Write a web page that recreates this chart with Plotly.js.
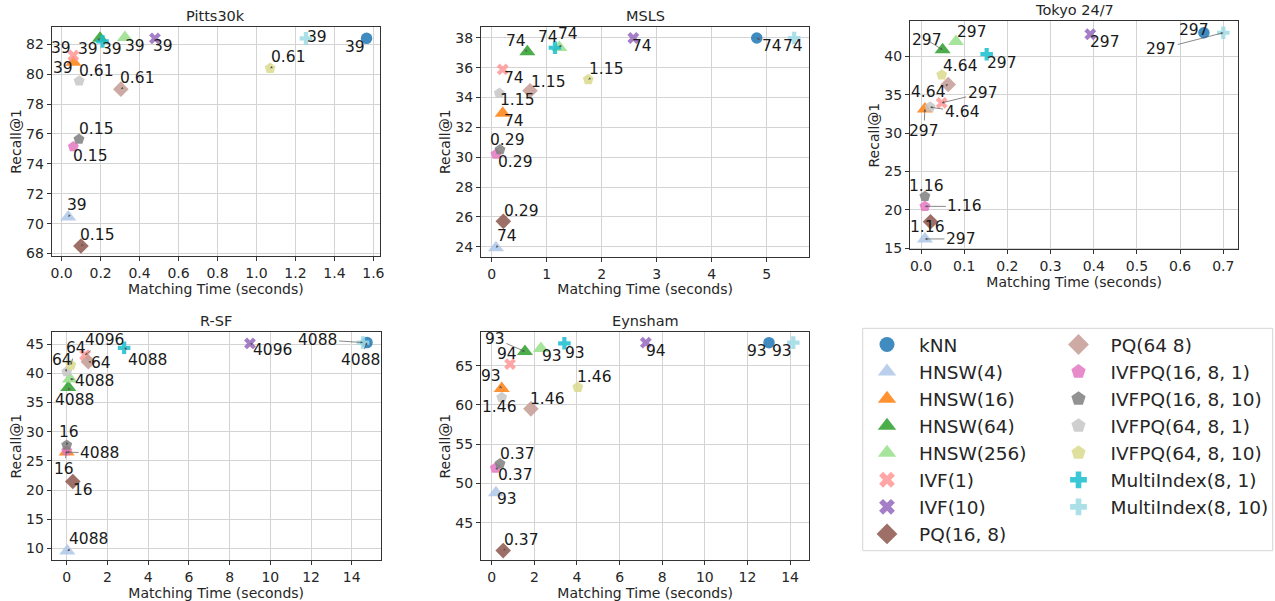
<!DOCTYPE html>
<html><head><meta charset="utf-8">
<script src="https://cdn.plot.ly/plotly-3.0.1.min.js"></script>
<style>html,body{margin:0;padding:0;background:#fff}#chart{width:1275px;height:601px}</style>
</head><body><div id="chart"></div>
<script>
// ---------------- DATA ----------------
const methods = ['kNN','HNSW(4)','HNSW(16)','HNSW(64)','HNSW(256)','IVF(1)','IVF(10)','PQ(16, 8)','PQ(64 8)',
  'IVFPQ(16, 8, 1)','IVFPQ(16, 8, 10)','IVFPQ(64, 8, 1)','IVFPQ(64, 8, 10)','MultiIndex(8, 1)','MultiIndex(8, 10)'];

const datasetNames = ['Pitts30k','MSLS','Tokyo 24/7','R-SF','Eynsham'];

const pittsTime   = [1.565, 0.034, 0.060, 0.197, 0.325, 0.060, 0.479, 0.099, 0.304, 0.060, 0.089, 0.090, 1.070, 0.210, 1.254];
const pittsRecall = [82.4, 70.45, 80.8, 82.4, 82.45, 81.25, 82.4, 68.5, 79.0, 75.15, 75.65, 79.55, 80.4, 82.2, 82.4];
const pittsLabel  = ['39','39','39','39','39','39','39','0.15','0.61','0.15','0.15','0.61','0.61','39','39'];

const mslsTime   = [4.82, 0.078, 0.20, 0.648, 1.23, 0.20, 2.575, 0.211, 0.696, 0.078, 0.151, 0.138, 1.756, 1.15, 5.50];
const mslsRecall = [37.98, 23.93, 32.94, 37.06, 37.35, 35.88, 37.98, 25.7, 34.45, 30.2, 30.5, 34.28, 35.2, 37.33, 37.98];
const mslsLabel  = ['74','74','74','74','74','74','74','0.29','1.15','0.29','0.29','1.15','1.15','74','74'];

const tokyoTime   = [0.655, 0.009, 0.009, 0.050, 0.081, 0.048, 0.392, 0.022, 0.063, 0.009, 0.009, 0.021, 0.048, 0.152, 0.700];
const tokyoRecall = [43.1, 16.2, 33.15, 40.87, 41.95, 33.95, 42.9, 18.45, 36.35, 20.45, 21.75, 33.4, 37.6, 40.3, 43.1];
const tokyoLabel  = ['297','297','297','297','297','297','297','1.16','4.64','1.16','1.16','4.64','4.64','297','297'];

const rsfTime   = [14.75, 0.03, 0.0, 0.08, 0.16, 0.90, 9.0, 0.30, 1.06, 0.0, 0.0, 0.0, 0.20, 2.82, 14.55];
const rsfRecall = [45.3, 9.55, 26.5, 37.6, 39.05, 43.15, 45.15, 21.45, 42.0, 26.75, 27.7, 40.3, 41.45, 44.4, 45.3];
const rsfLabel  = ['4088','4088','4088','4088','4088','4096','4096','16','64','16','16','64','64','4088','4088'];

const eynTime   = [13.01, 0.20, 0.47, 1.56, 2.31, 0.86, 7.23, 0.54, 1.84, 0.17, 0.39, 0.47, 4.04, 3.41, 14.15];
const eynRecall = [67.93, 48.8, 62.1, 66.8, 67.2, 65.2, 67.93, 41.45, 59.5, 51.95, 52.5, 60.95, 62.25, 67.85, 67.93];
const eynLabel  = ['93','93','93','93','93','94','94','0.37','1.46','0.37','0.37','1.46','1.46','93','93'];

const xTitle = 'Matching Time (seconds)';
const yTitle = 'Recall@1';

// ---------------- STYLE ----------------
const colors  = ['#1f77b4','#aec7e8','#ff7f0e','#2ca02c','#98df8a','#ff9896','#9467bd','#8c564b','#c49c94',
                 '#e377c2','#7f7f7f','#c7c7c7','#dbdb8d','#17becf','#9edae5'];
const symbols = ['circle','triangle-up','triangle-up','triangle-up','triangle-up','x','x','diamond','diamond',
                 'pentagon','pentagon','pentagon','pentagon','cross','cross'];
const plotSizes   = [11.5,14,14,14,14,10.5,10.5,12,12,11.5,11.5,11.5,11.5,10.5,10.5];
const legendSizes = [15,16,16,16,16,14,14,16,16,15,15,15,15,14,14];
const legendCol   = ['legend','legend','legend','legend','legend','legend','legend','legend',
                     'legend2','legend2','legend2','legend2','legend2','legend2','legend2'];

// label offsets in pixels (text centre relative to marker)
const pittsOff = [[-12,9],[9,-12],[-10,6],[-12,11],[10,8],[-12,-8],[8,8],[17,-11],[17,-11],[17,9],[18,-10],[17,-10],[18,-11],[9,8],[11,-1]];
const mslsOff  = [[15,8],[11,-12],[11,8],[-11,-11],[9,-13],[11,9],[9,8],[18,-10],[18,-9],[19,8],[7,-10],[18,7],[18,-11],[-7,-11],[-1,8]];
const tokyoOff = [[-10,-3],[36,0],[-1,22],[-16,-10],[16,-10],[41,-10],[15,8],[-3,5],[-20,8],[40,0],[2,-10],[32,5],[19,-9],[15,9],[-62,16]];
const rsfOff   = [[-7,17],[21,-12],[33,1],[6,13],[25,2],[19,-15],[23,7],[10,8],[13,1],[-3,18],[2,-13],[-5,-12],[5,-17],[23,12],[-45,-3]];
const eynOff   = [[-12,8],[11,6],[-11,-12],[-30,-13],[11,8],[-3,-10],[10,8],[18,-11],[17,-10],[20,7],[17,-10],[-2,10],[17,-10],[11,10],[-11,8]];

// subplot pixel boxes [left, top, right, bottom]
const W = 1275, H = 601;
const boxes = [[51.7,26.7,380,256.2],[481,26.7,809.3,256.7],[910,21,1238.3,249.3],[51.7,332.3,380.7,560],[481,332.3,809.3,560]];
const xRanges = [[-0.051,1.634],[-0.195,5.775],[-0.0255,0.7347],[-0.737,15.42],[-0.502,14.90]];
const yRanges = [[67.82,83.18],[23.33,38.74],[14.85,44.63],[7.99,47.06],[40.25,69.25]];
const xDtick  = [0.2,1,0.1,2,2];
const xFmt    = ['.1f','d','.1f','d','d'];
const yDtick  = [2,2,5,5,5];

const sets = [
  {t: pittsTime, r: pittsRecall, l: pittsLabel, o: pittsOff},
  {t: mslsTime, r: mslsRecall, l: mslsLabel, o: mslsOff},
  {t: tokyoTime, r: tokyoRecall, l: tokyoLabel, o: tokyoOff},
  {t: rsfTime, r: rsfRecall, l: rsfLabel, o: rsfOff},
  {t: eynTime, r: eynRecall, l: eynLabel, o: eynOff}
];

const FONT = 'DejaVu Sans, sans-serif';
const TXT = '#262626';
const traces = [];
const annotations = [];
const legendCommon = {y: 1-326/H, xanchor:'left', yanchor:'top', bgcolor:'rgba(0,0,0,0)', borderwidth:0,
           font:{family:FONT, size:18.5, color:TXT}, itemwidth:54, tracegroupgap:0};
const layout = {
  width: W, height: H,
  margin: {l:0, r:0, t:0, b:0},
  paper_bgcolor: '#ffffff', plot_bgcolor: '#ffffff',
  font: {family: FONT, size: 14, color: TXT},
  showlegend: true,
  legend: Object.assign({x: 855/W}, legendCommon),
  legend2: Object.assign({x: 1046.5/W}, legendCommon),
  shapes: [{type:'rect', xref:'paper', yref:'paper', x0:862.7/W, x1:1272.7/W, y0:1-550.7/H, y1:1-328.3/H,
            line:{color:'#d4d4d4', width:1}, fillcolor:'rgba(0,0,0,0)'}],
  annotations: annotations
};

sets.forEach((s, k) => {
  const n = k + 1;
  const xa = n === 1 ? 'x' : 'x' + n;
  const ya = n === 1 ? 'y' : 'y' + n;
  const b = boxes[k];
  const axCommon = {
    showline: true, mirror: true, linecolor: '#333', linewidth: 1,
    ticks: 'outside', ticklen: 4, tickcolor: '#333', tickwidth: 1,
    showgrid: true, gridcolor: '#d3d3d3', gridwidth: 1, zeroline: false,
    tickfont: {family: FONT, size: 14, color: TXT}, automargin: false
  };
  layout[n === 1 ? 'xaxis' : 'xaxis' + n] = Object.assign({}, axCommon, {
    domain: [b[0]/W, b[2]/W], anchor: ya, range: xRanges[k], dtick: xDtick[k], tick0: 0, tickformat: xFmt[k],
    title: {text: xTitle, font: {family: FONT, size: 14, color: TXT}, standoff: 0}
  });
  layout[n === 1 ? 'yaxis' : 'yaxis' + n] = Object.assign({}, axCommon, {
    domain: [1 - b[3]/H, 1 - b[1]/H], anchor: xa, range: yRanges[k], dtick: yDtick[k], tick0: 0,
    title: {text: yTitle, font: {family: FONT, size: 14, color: TXT}, standoff: 1}
  });
  annotations.push({xref:'paper', yref:'paper', x: (b[0]+b[2])/2/W, y: 1 - b[1]/H, yanchor:'bottom', xanchor:'center',
    yshift: 1, text: datasetNames[k], showarrow:false, font:{family:FONT, size:14.5, color:TXT}});
  methods.forEach((m, i) => {
    traces.push({
      type:'scatter', mode:'markers', name: m, x:[s.t[i]], y:[s.r[i]], xaxis: xa, yaxis: ya,
      showlegend:false, cliponaxis:false,
      marker:{symbol: symbols[i], color: colors[i], size: plotSizes[i], opacity: 0.85, line:{width:0}}
    });
    annotations.push({
      x: s.t[i], y: s.r[i], xref: xa, yref: ya, text: s.l[i],
      showarrow: true, ax: s.o[i][0], ay: s.o[i][1], arrowhead: 2, arrowsize: 0.7, arrowwidth: 0.7,
      arrowcolor: '#555', standoff: 0, font: {family: FONT, size: 15.5, color: '#1a1a1a'}
    });
  });
});

// legend-only entries
methods.forEach((m, i) => {
  traces.push({
    type:'scatter', mode:'markers', name: m, x:[null], y:[null], xaxis:'x', yaxis:'y',
    legend: legendCol[i], showlegend: true, hoverinfo:'skip',
    marker:{symbol: symbols[i], color: colors[i], size: legendSizes[i], opacity: 0.85, line:{width:0}}
  });
});

Plotly.newPlot('chart', traces, layout, {staticPlot: true, displayModeBar: false});
</script>
</body></html>
